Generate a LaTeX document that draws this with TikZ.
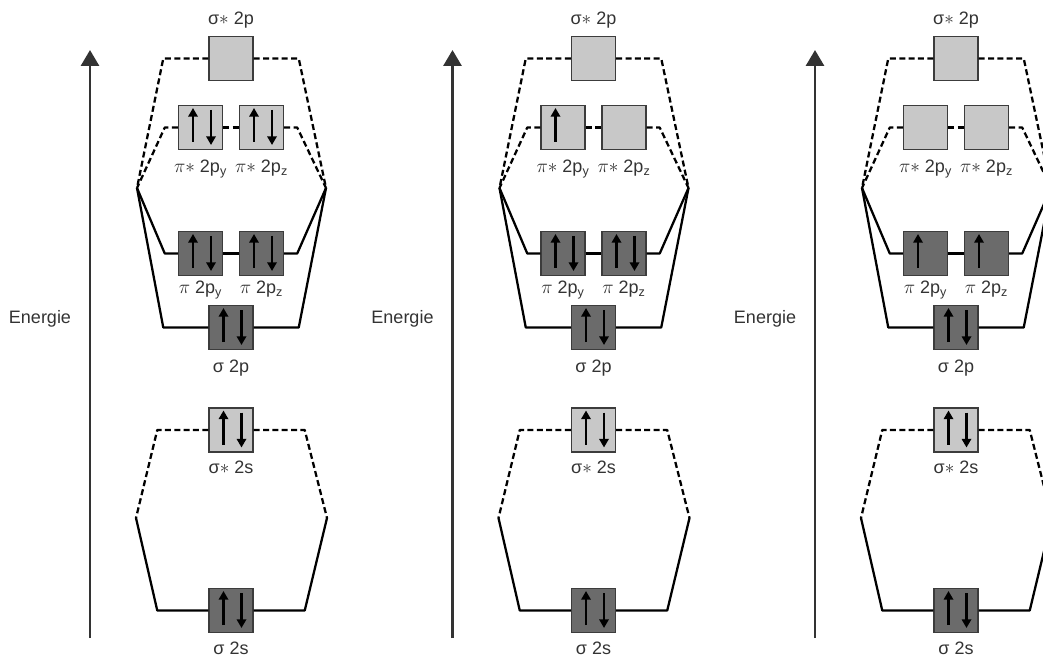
\documentclass[tikz,border=0pt]{standalone}
\usepackage{xcolor}
\usepackage{fontspec}
\setmainfont{Liberation Sans}
\usepackage{tikz}
\usetikzlibrary{positioning, calc, arrows.meta}

\definecolor{antifill}{HTML}{C8C8C8}
\definecolor{bondfill}{HTML}{6B6B6B}
\definecolor{boxline}{HTML}{3C3C3C}
\definecolor{labelgray}{HTML}{333333}

% electrons in a box: node name, number of electrons (0, 1, 2)
\newcommand\spins[2]{%
  \ifnum#2>0 \draw[spin] ([shift={(-7.5,14.5)}]#1.center) -- ++(0,-34);\fi
  \ifnum#2>1 \draw[spin] ([shift={(10.5,-17.5)}]#1.center) -- ++(0,35);\fi}

\begin{document}
\begin{tikzpicture}[
  x=0.75pt, y=-0.75pt,
  font=\fontsize{13.5}{16}\selectfont,
  orbital/.style={rectangle, draw=boxline, line width=1.1pt, inner sep=0pt,
                  minimum size=33pt},
  antiorb/.style={orbital, fill=antifill},
  bondorb/.style={orbital, fill=bondfill},
  bond/.style={line width=1.7pt, line join=round},
  antibond/.style={bond, dash pattern=on 4.5pt off 2.5pt},
  spin/.style={line width=1.8pt, -{Triangle[length=6.5pt,width=7pt]}},
  axis/.style={line width=2.2pt, labelgray, -{Triangle[length=12pt,width=13.5pt]}},
  lbl/.style={text=labelgray, anchor=base, inner sep=0pt},
  energy/.style={text=labelgray, inner sep=0pt}
]

\useasboundingbox (0,0) rectangle (1043,656);
\clip (0,0) rectangle (1043,656);

\foreach \dx/\p/\na/\nb/\nc/\nd in {0/a/2/2/2/2, 362.5/b/1/0/2/2, 725/c/0/0/1/1} {

  % --- energy axis ---
  \coordinate (\p-base) at (90+\dx,638);
  \coordinate (\p-top) at (90+\dx,50);
  \draw[axis] (\p-base) -- (\p-top);
  \node[energy] (\p-en) at (40+\dx,319) {Energie};

  % --- orbital boxes ---
  \node[antiorb] (\p-ssp) at (231+\dx,58.5) {};
  \node[antiorb] (\p-spy) at (200.5+\dx,127.5) {};
  \node[antiorb] (\p-spz) at (261.5+\dx,127.5) {};
  \node[bondorb] (\p-py) at (200.5+\dx,253.5) {};
  \node[bondorb] (\p-pz) at (261.5+\dx,253.5) {};
  \node[bondorb] (\p-sp) at (231+\dx,327.5) {};
  \node[antiorb] (\p-sss) at (231+\dx,430) {};
  \node[bondorb] (\p-ss) at (231+\dx,610.5) {};

  % --- junctions of the atomic levels ---
  \coordinate (\p-jl) at (137+\dx,188);
  \coordinate (\p-jr) at (326+\dx,188);
  \coordinate (\p-kl) at (136+\dx,518);
  \coordinate (\p-kr) at (327+\dx,518);

  % --- 2p lines ---
  \draw[antibond] (\p-ssp.west) -- ++(-45,0) -- (\p-jl);
  \draw[antibond] (\p-ssp.east) -- ++(45,0) -- (\p-jr);
  \draw[antibond] (\p-spy.west) -- ++(-13,0) -- (\p-jl);
  \draw[antibond] (\p-spy.east) -- (\p-spz.west);
  \draw[antibond] (\p-spz.east) -- ++(13,0) -- (\p-jr);
  \draw[bond] (\p-py.west) -- ++(-13,0) -- (\p-jl);
  \draw[bond] (\p-py.east) -- (\p-pz.west);
  \draw[bond] (\p-pz.east) -- ++(13,0) -- (\p-jr);
  \draw[bond] (\p-sp.west) -- ++(-45,0) -- (\p-jl);
  \draw[bond] (\p-sp.east) -- ++(45,0) -- (\p-jr);

  % --- 2s lines ---
  \draw[antibond] (\p-sss.west) -- ++(-51,0) -- (\p-kl);
  \draw[antibond] (\p-sss.east) -- ++(51,0) -- (\p-kr);
  \draw[bond] (\p-ss.west) -- ++(-51,0) -- (\p-kl);
  \draw[bond] (\p-ss.east) -- ++(51,0) -- (\p-kr);

  % --- electrons ---
  \spins{\p-spy}{\na}
  \spins{\p-spz}{\nb}
  \spins{\p-py}{\nc}
  \spins{\p-pz}{\nd}
  \spins{\p-sp}{2}
  \spins{\p-sss}{2}
  \spins{\p-ss}{2}

  % --- labels ---
  \node[lbl] (\p-lssp) at ($(\p-ssp.north)+(0,-11)$) {σ$\ast$ 2p};
  \node[lbl] (\p-lspy) at ($(\p-spy.south)+(0,22)$) {$\pi\ast$ 2p\textsubscript{y}};
  \node[lbl] (\p-lspz) at ($(\p-spz.south)+(0,22)$) {$\pi\ast$ 2p\textsubscript{z}};
  \node[lbl] (\p-lpy) at ($(\p-py.south)+(0,17)$) {$\pi$ 2p\textsubscript{y}};
  \node[lbl] (\p-lpz) at ($(\p-pz.south)+(0,17)$) {$\pi$ 2p\textsubscript{z}};
  \node[lbl] (\p-lsp) at ($(\p-sp.south)+(0,22)$) {σ 2p};
  \node[lbl] (\p-lsss) at ($(\p-sss.south)+(0,21)$) {σ$\ast$ 2s};
  \node[lbl] (\p-lss) at ($(\p-ss.south)+(0,21)$) {σ 2s};
}

\end{tikzpicture}
\end{document}
